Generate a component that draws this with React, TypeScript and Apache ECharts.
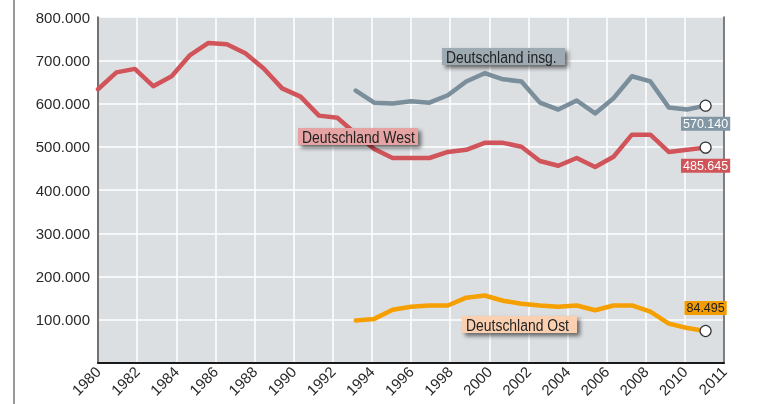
import React, { useEffect, useRef } from 'react';
import * as echarts from 'echarts';

const xTickLabels = ['1980', '1982', '1984', '1986', '1988', '1990', '1992', '1994', '1996', '1998', '2000', '2002', '2004', '2006', '2008', '2010', '2011'];

const yearsWest = [1978, 1979, 1980, 1981, 1982, 1983, 1984, 1985, 1986, 1987, 1988, 1989, 1990, 1991, 1992, 1993, 1994, 1995, 1996, 1997, 1998, 1999, 2000, 2001, 2002, 2003, 2004, 2005, 2006, 2007, 2008, 2009, 2010, 2011];
const westValues = [633000, 672000, 680000, 640000, 663000, 712000, 740000, 737000, 716000, 681000, 635000, 616000, 572000, 567000, 530000, 495000, 474000, 474000, 474000, 488000, 493000, 509000, 509000, 500000, 467000, 456000, 474000, 453000, 477000, 528000, 528000, 488000, 493000, 498000];

const yearsUnified = [1992, 1993, 1994, 1995, 1996, 1997, 1998, 1999, 2000, 2001, 2002, 2003, 2004, 2005, 2006, 2007, 2008, 2009, 2010, 2011];
const totalValues = [630000, 602000, 600000, 605000, 602000, 619000, 651000, 670000, 656000, 651000, 602000, 586000, 607000, 577000, 612000, 663000, 651000, 591000, 586000, 595000];
const eastValues = [98000, 102000, 123000, 130000, 133000, 133000, 151000, 156000, 144000, 137000, 133000, 130000, 133000, 122000, 133000, 133000, 119000, 91000, 81000, 74000];

const seriesNames = ['Deutschland insg.', 'Deutschland West', 'Deutschland Ost'];
const endLabelValues = [570140, 485645, 84495];

const FONT = "'Liberation Sans', Arial, sans-serif";
const fmt = (v: number) => String(Math.round(v)).replace(/\B(?=(\d{3})+(?!\d))/g, '.');

const COLORS = {
  total: '#7a8e9b',
  west: '#d0545a',
  east: '#f5a000',
};

function buildData(years: number[], values: number[], labelValue: number, label: any) {
  return years.map((y, i) => {
    if (i < years.length - 1) return [y, values[i]];
    return {
      value: [y, values[i]],
      symbol: 'circle',
      symbolSize: 11,
      itemStyle: { color: '#ffffff', borderColor: '#333333', borderWidth: 1.2 },
      label: { show: true, formatter: () => fmt(labelValue), fontFamily: FONT, fontSize: 12.5, lineHeight: 14, padding: [0, 2, 0, 2], ...label },
    };
  });
}

function annotation(x: number, y: number, w: number, text: string, fill: string) {
  return {
    type: 'group',
    x,
    y,
    z: 100,
    children: [
      {
        type: 'rect',
        z: 100,
        shape: { x: 0, y: 0, width: w, height: 17 },
        style: { fill, shadowBlur: 4, shadowOffsetX: 3, shadowOffsetY: 3, shadowColor: 'rgba(0,0,0,0.55)' },
      },
      {
        type: 'text',
        z: 101,
        x: 4,
        y: 9,
        scaleX: 0.82,
        style: { text, fill: '#222222', font: `17px ${FONT}`, verticalAlign: 'middle', align: 'left' },
      },
    ],
  };
}

export default function App() {
  const ref = useRef<HTMLDivElement>(null);
  useEffect(() => {
    if (!ref.current) return;
    const chart = echarts.init(ref.current, null, { renderer: 'svg' });
    chart.setOption({
      animation: false,
      grid: {
        left: 98,
        right: 33,
        top: 17,
        bottom: 41,
        show: true,
        backgroundColor: '#dcdfe2',
        borderWidth: 0,
        outerBoundsMode: 'none',
      },
      xAxis: [
        {
          type: 'category',
          data: xTickLabels,
          boundaryGap: false,
          axisLine: { show: true, lineStyle: { color: '#1a1a1a', width: 2 } },
          axisTick: { show: false },
          splitLine: { show: true, lineStyle: { color: '#ffffff', width: 1.5 } },
          axisLabel: { rotate: 45, interval: 0, fontFamily: FONT, fontSize: 15, color: '#2a2a2a', margin: 6 },
        },
        { type: 'value', min: 1978, max: 2012, show: false },
      ],
      yAxis: [
        {
          type: 'value',
          min: 0,
          max: 800000,
          interval: 100000,
          axisLine: { show: true, lineStyle: { color: '#444444', width: 1.5 } },
          axisTick: { show: false },
          splitLine: { show: true, lineStyle: { color: '#ffffff', width: 1.5 } },
          axisLabel: {
            formatter: (v: number) => (v === 0 ? '' : fmt(v)),
            fontFamily: FONT,
            fontSize: 15,
            color: '#2a2a2a',
            margin: 8,
          },
        },
        {
          type: 'value',
          min: 0,
          max: 800000,
          position: 'right',
          axisLine: { show: true, lineStyle: { color: '#555555', width: 1.5 } },
          axisTick: { show: false },
          axisLabel: { show: false },
          splitLine: { show: false },
        },
      ],
      series: [
        {
          name: seriesNames[1],
          type: 'line',
          xAxisIndex: 1,
          yAxisIndex: 0,
          symbol: 'none',
          lineStyle: { color: COLORS.west, width: 4.5, join: 'round', cap: 'round' },
          itemStyle: { color: COLORS.west },
          data: buildData(yearsWest, westValues, endLabelValues[1], {
            position: 'bottom',
            distance: 5,
            color: '#ffffff',
            backgroundColor: '#d0545a',
          }),
        },
        {
          name: seriesNames[0],
          type: 'line',
          xAxisIndex: 1,
          yAxisIndex: 0,
          symbol: 'none',
          lineStyle: { color: COLORS.total, width: 4.5, join: 'round', cap: 'round' },
          itemStyle: { color: COLORS.total },
          data: buildData(yearsUnified, totalValues, endLabelValues[0], {
            position: 'bottom',
            distance: 5,
            color: '#ffffff',
            backgroundColor: '#8197a5',
          }),
        },
        {
          name: seriesNames[2],
          type: 'line',
          xAxisIndex: 1,
          yAxisIndex: 0,
          symbol: 'none',
          lineStyle: { color: COLORS.east, width: 4.5, join: 'round', cap: 'round' },
          itemStyle: { color: COLORS.east },
          data: buildData(yearsUnified, eastValues, endLabelValues[2], {
            position: 'top',
            distance: 10,
            color: '#222222',
            backgroundColor: '#f39c00',
          }),
        },
      ],
      graphic: [
        { type: 'line', z: 100, shape: { x1: 14, y1: 0, x2: 14, y2: 404 }, style: { stroke: '#777777', lineWidth: 1.5 } },
        annotation(442, 48, 123, seriesNames[0], '#9eaab2'),
        annotation(298, 128, 120, seriesNames[1], '#e6a3a3'),
        annotation(462, 316, 115, seriesNames[2], '#fad0b0'),
      ],
    });
    return () => chart.dispose();
  }, []);
  return <div ref={ref} style={{ position: 'fixed', left: 0, top: 0, width: 757, height: 404 }} />;
}
